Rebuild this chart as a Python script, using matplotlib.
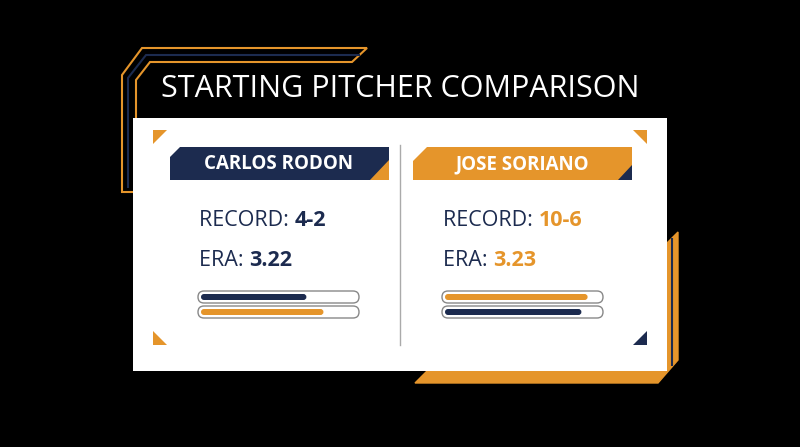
import matplotlib.pyplot as plt
from matplotlib.patches import Polygon, Rectangle, FancyBboxPatch

NAVY = '#1c2b4f'
ORANGE = '#e5952b'

title = "STARTING PITCHER COMPARISON"
pitchers = ["CARLOS RODON", "JOSE SORIANO"]
records = ["4-2", "10-6"]
eras = ["3.22", "3.23"]
# bar fill fractions (top bar, bottom bar) per pitcher
bar_fracs = [[0.68, 0.79], [0.92, 0.88]]
bar_colors = [[NAVY, ORANGE], [ORANGE, NAVY]]
text_colors = [NAVY, ORANGE]


def main():
	fig = plt.figure(figsize=(8, 4.47), dpi=100, facecolor='black')
	ax = fig.add_axes([0, 0, 1, 1])
	ax.set_xlim(0, 800)
	ax.set_ylim(447, 0)
	ax.axis('off')
	ax.set_facecolor('black')

	# decorative frames
	ax.add_patch(Polygon([(122, 192), (122, 75), (142, 48), (367, 48), (352, 62), (150, 62), (136, 80), (136, 192)],
		closed=True, fc='none', ec=ORANGE, lw=1.5))
	ax.add_patch(Polygon([(128, 188), (128, 78), (146, 55), (360, 55)], closed=False, fill=False, ec=NAVY, lw=1.5))
	ax.add_patch(Polygon([(415, 383), (658, 383), (678, 360), (678, 232), (664, 246), (664, 371), (427, 371)],
		closed=True, fc=ORANGE, ec=ORANGE))
	ax.add_patch(Polygon([(672, 238), (672, 366)], closed=False, fill=False, ec=NAVY, lw=1.5))

	ax.text(400, 89, title, color='white', fontsize=22, ha='center', va='center', family='Open Sans')

	# white card
	ax.add_patch(Rectangle((133, 118), 534, 253, fc='white', ec='none'))
	ax.plot([400, 400], [145, 345], color='#aaaaaa', lw=1)

	# corner triangles
	ax.add_patch(Polygon([(153, 130), (167, 130), (153, 144)], fc=ORANGE))
	ax.add_patch(Polygon([(647, 130), (633, 130), (647, 144)], fc=ORANGE))
	ax.add_patch(Polygon([(153, 345), (167, 345), (153, 331)], fc=ORANGE))
	ax.add_patch(Polygon([(647, 345), (633, 345), (647, 331)], fc=NAVY))

	for i in range(2):
		x0 = 170 if i == 0 else 413
		main_c, acc_c = (NAVY, ORANGE) if i == 0 else (ORANGE, NAVY)
		ax.add_patch(Rectangle((x0, 147), 219, 33, fc=main_c))
		if i == 0:
			ax.add_patch(Polygon([(x0 + 219, 160), (x0 + 219, 180), (x0 + 200, 180)], fc=acc_c))
			ax.add_patch(Polygon([(x0, 147), (x0 + 10, 147), (x0, 157)], fc='white'))
		else:
			ax.add_patch(Polygon([(x0 + 219, 165), (x0 + 219, 180), (x0 + 205, 180)], fc=acc_c))
			ax.add_patch(Polygon([(x0, 147), (x0 + 14, 147), (x0, 161)], fc='white'))
		ax.text(x0 + 109, 164, pitchers[i], color='white', fontsize=13.5, fontweight='bold',
			ha='center', va='center', family='Open Sans')

		tx = 199 if i == 0 else 443
		t = ax.text(tx, 221, "RECORD: ", color=NAVY, fontsize=15.5, va='center', family='Open Sans')
		ax.annotate(records[i], xycoords=t, xy=(1, 0.5), va='center', color=text_colors[i],
			fontsize=15.5, fontweight='bold', family='Open Sans')
		t = ax.text(tx, 260, "ERA: ", color=NAVY, fontsize=15.5, va='center', family='Open Sans')
		ax.annotate(eras[i], xycoords=t, xy=(1, 0.5), va='center', color=text_colors[i],
			fontsize=15.5, fontweight='bold', family='Open Sans')

		bx = 198 if i == 0 else 442
		bw = 161
		for j, by in enumerate([291, 306]):
			ax.add_patch(FancyBboxPatch((bx, by), bw, 12, boxstyle='round,pad=0,rounding_size=6',
				fc='white', ec='#888888', lw=1))
			ax.add_patch(FancyBboxPatch((bx + 3, by + 3), (bw - 6) * bar_fracs[i][j], 6,
				boxstyle='round,pad=0,rounding_size=3', fc=bar_colors[i][j], ec='none'))

	fig.savefig('out.png', dpi=100, facecolor='black')


if __name__ == '__main__':
	main()
